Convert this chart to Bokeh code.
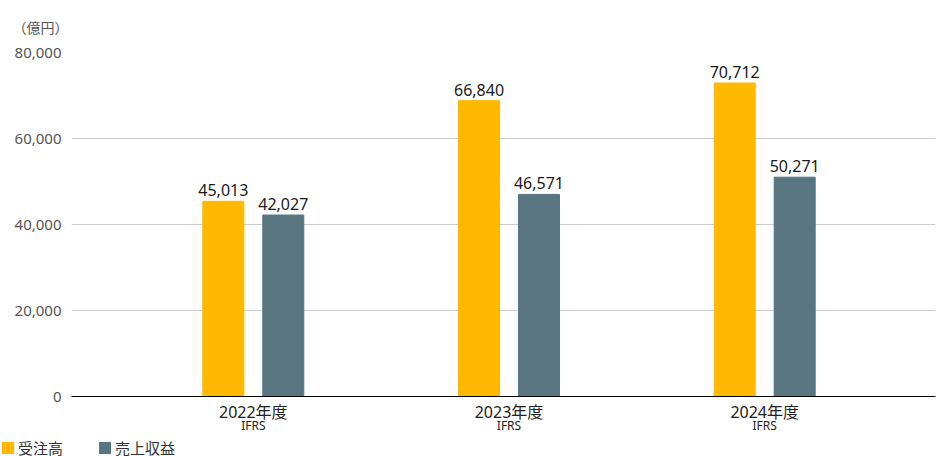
import numpy as np
from bokeh.plotting import figure
from bokeh.layouts import column
from bokeh.models import (ColumnDataSource, Range1d, FixedTicker, LinearAxis,
                          NumeralTickFormatter, Div)
from bokeh.transform import dodge
from bokeh.embed import file_html
from bokeh.resources import INLINE

# values
years = ["2022年度", "2023年度", "2024年度"]
standards = ["IFRS", "IFRS", "IFRS"]
orders = [45400, 68800, 72900]      # bar heights as drawn
revenue = [42200, 47000, 51000]
orders_text = ["45,013", "66,840", "70,712"]   # printed labels
revenue_text = ["42,027", "46,571", "50,271"]
series_names = ["受注高", "売上収益"]
y_ticks = [0, 20000, 40000, 60000, 80000]
unit_text = "（億円）"

ORANGE = "#FFB800"
SLATE = "#587581"
FONT = "Noto Sans, Noto Sans CJK JP"

idx = list(np.arange(len(years)))
src = ColumnDataSource(dict(x=idx, orders=orders, revenue=revenue,
                            ot=orders_text, rt=revenue_text))

p = figure(width=936, height=436, x_range=Range1d(-0.711, 2.668),
           y_range=Range1d(0, 80000), output_backend="svg",
           toolbar_location=None, x_axis_location=None, title=unit_text,
           min_border_left=71, min_border_right=1, min_border_top=51,
           min_border_bottom=40)
p.outline_line_color = None

p.title.align = "left"
p.title.offset = -59
p.title.text_font = FONT
p.title.text_font_size = "14px"
p.title.text_font_style = "normal"
p.title.text_color = "#555555"
p.title.standoff = 31

shift = 0.1173
bw = 0.1603
p.vbar(x=dodge("x", -shift, range=p.x_range), top="orders", width=bw,
       source=src, color=ORANGE)
p.vbar(x=dodge("x", shift, range=p.x_range), top="revenue", width=bw,
       source=src, color=SLATE)

for off, col, txt in ((-shift, "orders", "ot"), (shift, "revenue", "rt")):
    p.text(x=dodge("x", off, range=p.x_range), y=col, text=txt, source=src,
           text_align="center", text_baseline="bottom", y_offset=-5,
           text_font={"value": "Noto Sans"}, text_font_size="16px",
           text_color="#1a1a1a")

# y axis
ya = p.yaxis[0]
ya.ticker = FixedTicker(ticks=y_ticks)
ya.formatter = NumeralTickFormatter(format="0,0")
ya.axis_line_color = None
ya.major_tick_line_color = None
ya.minor_tick_line_color = None
ya.major_tick_out = 0
ya.major_tick_in = 0
ya.major_label_standoff = 10
ya.major_label_text_font = FONT
ya.major_label_text_font_size = "15px"
ya.major_label_text_color = "#555555"

p.ygrid.ticker = FixedTicker(ticks=y_ticks)
p.ygrid.grid_line_color = "#cccccc"
p.xgrid.grid_line_color = None

# two stacked x axes: year and accounting standard
xa = LinearAxis(ticker=FixedTicker(ticks=idx),
                major_label_overrides={int(i): y for i, y in zip(idx, years)})
xa.axis_line_color = "#000000"
xa.major_tick_line_color = None
xa.minor_tick_line_color = None
xa.major_tick_out = 0
xa.major_tick_in = 0
xa.major_label_standoff = 4
xa.major_label_text_font = FONT
xa.major_label_text_font_size = "16px"
xa.major_label_text_color = "#222222"
p.add_layout(xa, "below")

xb = LinearAxis(ticker=FixedTicker(ticks=idx),
                major_label_overrides={int(i): s for i, s in zip(idx, standards)})
xb.axis_line_color = None
xb.major_tick_line_color = None
xb.minor_tick_line_color = None
xb.major_tick_out = 0
xb.major_tick_in = 0
xb.major_label_standoff = -9
xb.major_label_text_font = FONT
xb.major_label_text_font_size = "12px"
xb.major_label_text_color = "#222222"
p.add_layout(xb, "below")

# legend strip under the chart, flush with the left page edge
def swatch(color, name, gap):
    return (f'<span style="display:inline-block;width:12px;height:12px;'
            f'background:{color};margin-left:{gap}px"></span>'
            f'<span style="margin-left:4px">{name}</span>')

legend_html = (
    '<div style="display:flex;align-items:center;box-sizing:border-box;'
    'height:20px;padding-top:3px;font-family:\'Noto Sans CJK JP\';'
    'font-size:15px;color:#333333;white-space:nowrap">'
    + swatch(ORANGE, series_names[0], 2)
    + swatch(SLATE, series_names[1], 36)
    + '</div>'
)
legend = Div(text=legend_html, width=936, height=20, margin=0)

open("out.html", "w").write(file_html(column(p, legend, spacing=0), INLINE))
